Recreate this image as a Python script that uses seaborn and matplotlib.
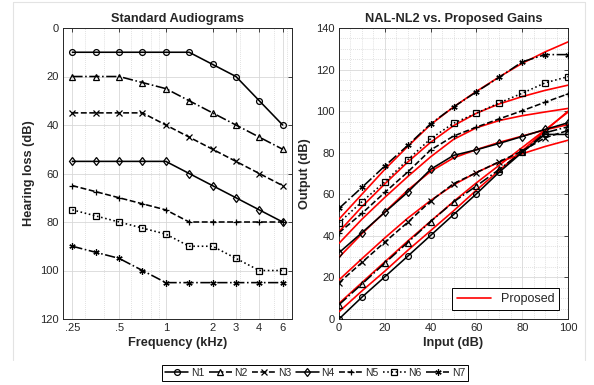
import numpy as np
import pandas as pd
import matplotlib
matplotlib.use("Agg")
import matplotlib.pyplot as plt
import seaborn as sns
from matplotlib.ticker import FixedLocator, LogLocator, MultipleLocator, NullFormatter
from matplotlib.lines import Line2D

# ---------------- data ----------------
freqs = [0.25, 0.354, 0.5, 0.707, 1.0, 1.414, 2.0, 2.83, 4.0, 5.66]
freq_tick_pos = [0.25, 0.5, 1.0, 2.0, 2.83, 4.0, 5.66]
freq_tick_labels = [".25", ".5", "1", "2", "3", "4", "6"]
names = ["N1", "N2", "N3", "N4", "N5", "N6", "N7"]

hl_N1 = [10, 10, 10, 10, 10, 10, 15, 20, 30, 40]
hl_N2 = [20, 20, 20, 22.5, 25, 30, 35, 40, 45, 50]
hl_N3 = [35, 35, 35, 35, 40, 45, 50, 55, 60, 65]
hl_N4 = [55, 55, 55, 55, 55, 60, 65, 70, 75, 80]
hl_N5 = [65, 67.5, 70, 72.5, 75, 80, 80, 80, 80, 80]
hl_N6 = [75, 77.5, 80, 82.5, 85, 90, 90, 95, 100, 100]
hl_N7 = [90, 92.5, 95, 100, 105, 105, 105, 105, 105, 105]

inputs = [0, 10, 20, 30, 40, 50, 60, 70, 80, 90, 100]
out_N1 = [0, 10.5, 20.3, 30.2, 40.2, 50.2, 60.2, 70.7, 80.2, 88.8, 88.8]
out_N2 = [6.9, 16.8, 26.9, 36.8, 46.9, 56.3, 64.0, 72.0, 80.3, 89.6, 92.5]
out_N3 = [17.4, 27.2, 37.0, 46.5, 56.7, 65.1, 70.4, 75.7, 80.8, 87.2, 90.7]
out_N4 = [31.9, 41.5, 51.3, 61.0, 72.0, 78.7, 81.4, 84.5, 87.8, 91.2, 94.4]
out_N5 = [41.5, 50.8, 60.9, 70.7, 81.3, 88.0, 92.3, 96.3, 100.2, 104.3, 108.3]
out_N6 = [46.3, 56.4, 66.0, 76.6, 86.7, 94.2, 99.0, 104.0, 108.6, 113.6, 116.6]
out_N7 = [53.2, 63.3, 73.6, 83.5, 93.9, 102.0, 109.3, 116.3, 123.7, 127.2, 127.2]

prop_N1 = [3.5, 13.5, 23.0, 33.0, 42.5, 52.0, 62.0, 71.5, 81.0, 90.5, 100.0]
prop_N2 = [7.5, 17.5, 27.5, 37.5, 47.0, 56.5, 65.5, 74.0, 82.5, 91.0, 99.5]
prop_N3 = [18.8, 29.0, 39.0, 48.5, 57.0, 64.5, 70.5, 75.5, 79.5, 83.0, 86.0]
prop_N4 = [29.7, 41.0, 51.5, 62.0, 71.0, 77.5, 81.5, 85.0, 88.0, 91.0, 93.5]
prop_N5 = [36.4, 48.0, 58.5, 68.5, 78.0, 86.4, 92.0, 95.5, 97.8, 99.6, 101.3]
prop_N6 = [42.0, 54.0, 65.0, 75.5, 85.0, 93.0, 99.0, 103.5, 107.0, 110.0, 112.5]
prop_N7 = [48.0, 60.0, 72.0, 83.0, 93.5, 102.0, 109.5, 116.5, 123.0, 128.5, 133.3]

hl_all = [hl_N1, hl_N2, hl_N3, hl_N4, hl_N5, hl_N6, hl_N7]
out_all = [out_N1, out_N2, out_N3, out_N4, out_N5, out_N6, out_N7]
prop_all = [prop_N1, prop_N2, prop_N3, prop_N4, prop_N5, prop_N6, prop_N7]

# ---------------- styles ----------------
styles = [
    dict(linestyle="-", marker="o", markerfacecolor="none", markersize=4.2),
    dict(linestyle="-.", marker="^", markerfacecolor="none", markersize=4.5),
    dict(linestyle="--", marker="x", markersize=3.8),
    dict(linestyle="-", marker="d", markerfacecolor="none", markersize=4.5),
    dict(linestyle="--", marker="+", markersize=4.5),
    dict(linestyle=":", marker="s", markerfacecolor="none", markersize=4.2),
    dict(linestyle="-.", marker=(6, 2, 0), markersize=4.5),
]

sns.set_theme(style="white")
plt.rcParams["font.family"] = ["Liberation Sans", "DejaVu Sans"]
plt.rcParams["axes.edgecolor"] = "#262626"
plt.rcParams["axes.linewidth"] = 0.7

fig = plt.figure(figsize=(5.94, 3.85), dpi=100)
W, H = 594.0, 385.0
ax1 = fig.add_axes([63 / W, 1 - 319 / H, 229 / W, 291 / H])
ax2 = fig.add_axes([339 / W, 1 - 319 / H, 229 / W, 291 / H])

grid_major = dict(color="#d8d8d8", linewidth=0.6, linestyle="-")
grid_minor = dict(color="#c8c8c8", linewidth=0.5, linestyle=(0, (1, 1.8)))

# ---------------- left panel ----------------
handles = []
for name, vals, st in zip(names, hl_all, styles):
    df = pd.DataFrame({"f": freqs, "hl": vals})
    sns.lineplot(data=df, x="f", y="hl", ax=ax1, color="black", linewidth=1.15,
                 markeredgewidth=0.9, markeredgecolor="black", zorder=3,
                 label=name, legend=False, **st)
    handles.append(ax1.lines[-1])

ax1.set_xscale("log")
ax1.set_xlim(0.2176, 6.5)
ax1.set_ylim(120, 0)
ax1.xaxis.set_major_locator(FixedLocator(freq_tick_pos))
ax1.set_xticklabels(freq_tick_labels)
ax1.xaxis.set_minor_locator(LogLocator(base=10, subs=(2, 3, 4, 5, 6, 7, 8, 9), numticks=20))
ax1.xaxis.set_minor_formatter(NullFormatter())
ax1.yaxis.set_major_locator(MultipleLocator(20))
ax1.grid(True, which="major", **grid_major)
ax1.grid(True, which="minor", axis="x", **grid_minor)
ax1.set_axisbelow(True)
ax1.set_title("Standard Audiograms", fontsize=9.2, fontweight="bold", pad=4)
ax1.set_xlabel("Frequency (kHz)", fontsize=9.2, fontweight="bold", labelpad=3)
ax1.set_ylabel("Hearing loss (dB)", fontsize=9.2, fontweight="bold", labelpad=4)

# ---------------- right panel ----------------
for name, vals, st in zip(names, out_all, styles):
    df = pd.DataFrame({"inp": inputs, "out": vals})
    sns.lineplot(data=df, x="inp", y="out", ax=ax2, color="black", linewidth=1.15,
                 markeredgewidth=0.9, markeredgecolor="black", zorder=3,
                 legend=False, **st)
for vals in prop_all:
    df = pd.DataFrame({"inp": inputs, "out": vals})
    sns.lineplot(data=df, x="inp", y="out", ax=ax2, color="#ff0000", linewidth=1.2,
                 zorder=2.8, legend=False)

ax2.set_xlim(0, 100)
ax2.set_ylim(0, 140)
ax2.xaxis.set_major_locator(MultipleLocator(20))
ax2.yaxis.set_major_locator(MultipleLocator(20))
ax2.xaxis.set_minor_locator(MultipleLocator(5))
ax2.yaxis.set_minor_locator(MultipleLocator(5))
ax2.grid(True, which="major", **grid_major)
ax2.grid(True, which="minor", **grid_minor)
ax2.set_axisbelow(True)
ax2.set_title("NAL-NL2 vs. Proposed Gains", fontsize=9.2, fontweight="bold", pad=4)
ax2.set_xlabel("Input (dB)", fontsize=9.2, fontweight="bold", labelpad=3)
ax2.set_ylabel("Output (dB)", fontsize=9.2, fontweight="bold", labelpad=4)

red_handle = Line2D([], [], color="#ff0000", linewidth=1.2)
leg2 = ax2.legend([red_handle], ["Proposed"], loc="lower right", fontsize=9,
                  frameon=True, fancybox=False, edgecolor="black", framealpha=1,
                  handlelength=2.7, borderaxespad=0.7, borderpad=0.4)
leg2.get_frame().set_linewidth(0.7)

for ax in (ax1, ax2):
    ax.tick_params(axis="both", which="major", direction="in", length=3, width=0.6,
                   top=True, right=True, labelsize=8, colors="#262626", pad=3)
    ax.tick_params(axis="both", which="minor", length=0)
    for sp in ax.spines.values():
        sp.set_visible(True)
        sp.set_color("#262626")
        sp.set_linewidth(0.7)

# ---------------- bottom legend ----------------
leg = fig.legend(handles, names, loc="center", bbox_to_anchor=(315 / W, 1 - 373 / H),
                 ncol=7, fontsize=7.5, frameon=True, fancybox=False, edgecolor="black",
                 framealpha=1, handlelength=2.2, handletextpad=0.25, columnspacing=0.45,
                 borderpad=0.3, borderaxespad=0.2)
leg.get_frame().set_linewidth(0.7)

# faint outer frame of the exported figure
for (x0, y0, x1, y1) in [(13, 2, 585, 2), (13, 2, 13, 360), (585, 2, 585, 360)]:
    fig.add_artist(Line2D([x0 / W, x1 / W], [1 - y0 / H, 1 - y1 / H],
                          color="#e3e3e3", linewidth=0.8))

fig.savefig("out.png", dpi=100)
